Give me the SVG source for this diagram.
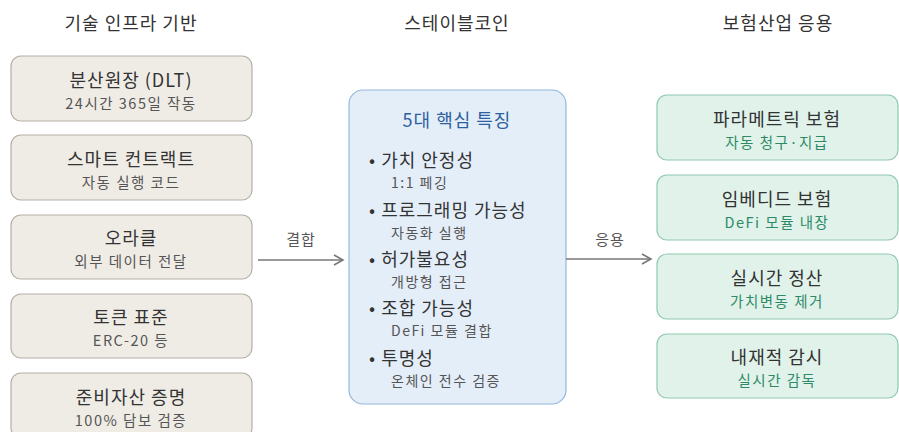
<svg xmlns="http://www.w3.org/2000/svg" width="899" height="432" viewBox="0 0 899 432">
<defs>
<style>
text{font-family:"Noto Sans CJK KR","Noto Sans",sans-serif;}
.hd{font-size:18px;fill:#333;text-anchor:middle;letter-spacing:1px;}
.lb{fill:#efece6;stroke:#b5b0a7;stroke-width:1.2;}
.gb{fill:#e0f2ea;stroke:#8fc8b0;stroke-width:1.2;}
.cb{fill:#e4eef9;stroke:#94b8de;stroke-width:1.2;}
.t{font-size:18px;fill:#333;text-anchor:middle;letter-spacing:1px;}
.s{font-size:14.5px;fill:#555;text-anchor:middle;letter-spacing:1.5px;}
.gs{font-size:14.5px;fill:#2e8a66;text-anchor:middle;letter-spacing:1.5px;}
.bt{font-size:18px;fill:#333;letter-spacing:1px;}
.bs{font-size:14px;fill:#555;letter-spacing:1.5px;}
.ct{font-size:18px;fill:#2f5f9e;text-anchor:middle;letter-spacing:1px;}
.cl{font-size:15px;fill:#555;text-anchor:middle;letter-spacing:1px;}
.ln{stroke:#777;stroke-width:1.6;fill:none;}
</style>
<marker id="ah" markerWidth="12" markerHeight="12" refX="10" refY="6" orient="auto" markerUnits="userSpaceOnUse">
<path d="M1,1 L10,6 L1,11" fill="none" stroke="#777" stroke-width="1.6"/>
</marker>
</defs>
<rect width="899" height="432" fill="#fff"/>
<text class="hd" x="131" y="30">기술 인프라 기반</text>
<text class="hd" x="457" y="30">스테이블코인</text>
<text class="hd" x="778" y="30">보험산업 응용</text>

<g id="n-dlt"><rect class="lb" x="11" y="56" width="241" height="65" rx="10"/><text class="t" x="131" y="87">분산원장 (DLT)</text><text class="s" x="131" y="109">24시간 365일 작동</text></g>
<g id="n-smart"><rect class="lb" x="11" y="135" width="241" height="65" rx="10"/><text class="t" x="131" y="166">스마트 컨트랙트</text><text class="s" x="131" y="188">자동 실행 코드</text></g>
<g id="n-oracle"><rect class="lb" x="11" y="215" width="241" height="64" rx="10"/><text class="t" x="131" y="245">오라클</text><text class="s" x="131" y="267">외부 데이터 전달</text></g>
<g id="n-token"><rect class="lb" x="11" y="294" width="241" height="64" rx="10"/><text class="t" x="131" y="324">토큰 표준</text><text class="s" x="131" y="346">ERC-20 등</text></g>
<g id="n-reserve"><rect class="lb" x="11" y="373" width="241" height="65" rx="10"/><text class="t" x="131" y="404">준비자산 증명</text><text class="s" x="131" y="426">100% 담보 검증</text></g>

<g id="n-stable"><rect class="cb" x="349" y="90" width="217" height="314" rx="14"/>
<text class="ct" x="457" y="127">5대 핵심 특징</text>
<text class="bt" x="369" y="167">• 가치 안정성</text><text class="bs" x="391" y="188">1:1 페깅</text>
<text class="bt" x="369" y="217">• 프로그래밍 가능성</text><text class="bs" x="391" y="238">자동화 실행</text>
<text class="bt" x="369" y="266">• 허가불요성</text><text class="bs" x="391" y="287">개방형 접근</text>
<text class="bt" x="369" y="315">• 조합 가능성</text><text class="bs" x="391" y="336">DeFi 모듈 결합</text>
<text class="bt" x="369" y="365">• 투명성</text><text class="bs" x="391" y="386">온체인 전수 검증</text>
</g>

<g id="n-param"><rect class="gb" x="657" y="95" width="241" height="65" rx="10"/><text class="t" x="777" y="126">파라메트릭 보험</text><text class="gs" x="777" y="148">자동 청구·지급</text></g>
<g id="n-embed"><rect class="gb" x="657" y="175" width="241" height="65" rx="10"/><text class="t" x="777" y="206">임베디드 보험</text><text class="gs" x="777" y="228">DeFi 모듈 내장</text></g>
<g id="n-settle"><rect class="gb" x="657" y="254" width="241" height="65" rx="10"/><text class="t" x="777" y="285">실시간 정산</text><text class="gs" x="777" y="307">가치변동 제거</text></g>
<g id="n-monitor"><rect class="gb" x="657" y="334" width="241" height="64" rx="10"/><text class="t" x="777" y="364">내재적 감시</text><text class="gs" x="777" y="386">실시간 감독</text></g>

<g id="connectors">
<line class="ln" x1="258" y1="260" x2="343" y2="260" marker-end="url(#ah)"/>
<text class="cl" x="301" y="245">결합</text>
<line class="ln" x1="566" y1="259" x2="651" y2="259" marker-end="url(#ah)"/>
<text class="cl" x="610" y="245">응용</text>
</g>
</svg>
